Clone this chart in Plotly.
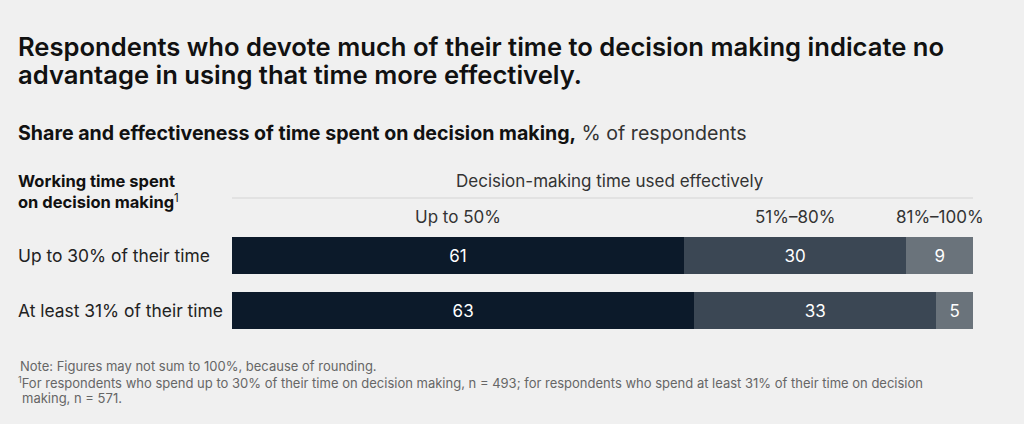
import plotly.graph_objects as go
import numpy as np

# Data
categories = ["Up to 30% of their time", "At least 31% of their time"]
series_names = ["Up to 50%", "51%–80%", "81%–100%"]
series_values = [
    [61, 63],   # Up to 50%
    [30, 33],   # 51%–80%
    [9, 5],     # 81%–100%
]
colors = ["#0c1a2a", "#3b4754", "#6a737b"]

W, H = 1024, 424
L, R, T, B = 232, 973, 237, 329
pw, ph = R - L, B - T

def xp(px):
    return (px - L) / pw

def yp(py):
    return (B - py) / ph

FONT = "Inter"
fig = go.Figure()
ypos = list(range(len(categories)))
for name, vals, col in zip(series_names, series_values, colors):
    fig.add_trace(go.Bar(
        x=vals, y=ypos, orientation="h", name=name,
        marker=dict(color=col, line=dict(width=0)),
        width=0.673,
        text=[str(v) for v in vals], textposition="inside",
        insidetextanchor="middle", textangle=0, constraintext="none",
        textfont=dict(color="#ffffff", size=17, family=FONT),
        hoverinfo="skip",
    ))

fig.update_layout(
    barmode="stack", barnorm="percent",
    width=W, height=H,
    margin=dict(l=L, r=W - R, t=T, b=H - B, pad=0),
    paper_bgcolor="#f0f0f0", plot_bgcolor="#f0f0f0",
    showlegend=False,
    font=dict(family=FONT, color="#111111"),
    xaxis=dict(range=[0, 100], visible=False, fixedrange=True),
    yaxis=dict(range=[1.3364, -0.3364], visible=False, fixedrange=True),
)

ann = []
# title (two lines)
title_lines = [
    ("Respondents who devote much of their time to decision making indicate no", 46),
    ("advantage in using that time more effectively.", 74),
]
for t, y in title_lines:
    ann.append(dict(text=t, x=xp(16), y=yp(y), xanchor="left", yanchor="middle", align="left",
                    font=dict(size=25.6, color="#111111", family=FONT, weight=600)))
# subtitle
ann.append(dict(text="<b>Share and effectiveness of time spent on decision making,</b> <span style='color:#333333'>% of respondents</span>",
                x=xp(16), y=yp(133), xanchor="left", yanchor="middle", align="left",
                font=dict(size=19.6, color="#111111", family=FONT)))
# row header
ann.append(dict(text="<b>Working time spent<br>on decision making</b><sup>1</sup>",
                x=xp(16), y=yp(191), xanchor="left", yanchor="middle", align="left",
                font=dict(size=16.5, color="#111111", family=FONT)))
# column group header
ann.append(dict(text="Decision-making time used effectively",
                x=xp(610), y=yp(181), xanchor="center", yanchor="middle",
                font=dict(size=17, color="#333333", family=FONT)))
# column headers at centers of first row's segments
first = np.array([v[0] for v in series_values], dtype=float)
first = first / first.sum() * 100
cum = np.cumsum(first)
centers = cum - first / 2
for name, c in zip(series_names, centers):
    ann.append(dict(text=name, x=c, xref="x", y=yp(217), xanchor="center", yanchor="middle",
                    font=dict(size=17, color="#333333", family=FONT)))
# row labels
for i, cat in enumerate(categories):
    ann.append(dict(text=cat, x=xp(16), y=i, yref="y", xanchor="left", yanchor="middle",
                    font=dict(size=17.4, color="#222222", family=FONT)))
# notes
notes = [
    ("Note: Figures may not sum to 100%, because of rounding.", 366, 18),
    ("<sup>1</sup>For respondents who spend up to 30% of their time on decision making, n = 493; for respondents who spend at least 31% of their time on decision", 382, 16),
    ("making, n = 571.", 398, 20),
]
for t, y, x in notes:
    ann.append(dict(text=t, x=xp(x), y=yp(y), xanchor="left", yanchor="middle", align="left",
                    font=dict(size=13, color="#666666", family=FONT)))

for a in ann:
    a.setdefault("xref", "paper")
    a.setdefault("yref", "paper")
    a["showarrow"] = False
fig.update_layout(annotations=ann)

fig.add_shape(type="line", xref="paper", yref="paper", x0=0, x1=1, y0=yp(198), y1=yp(198),
              line=dict(color="#d4d4d4", width=1))

fig.write_html("out.html", config={"displayModeBar": False},
               post_script="document.body.style.margin='0px';document.body.style.background='#f0f0f0';")
